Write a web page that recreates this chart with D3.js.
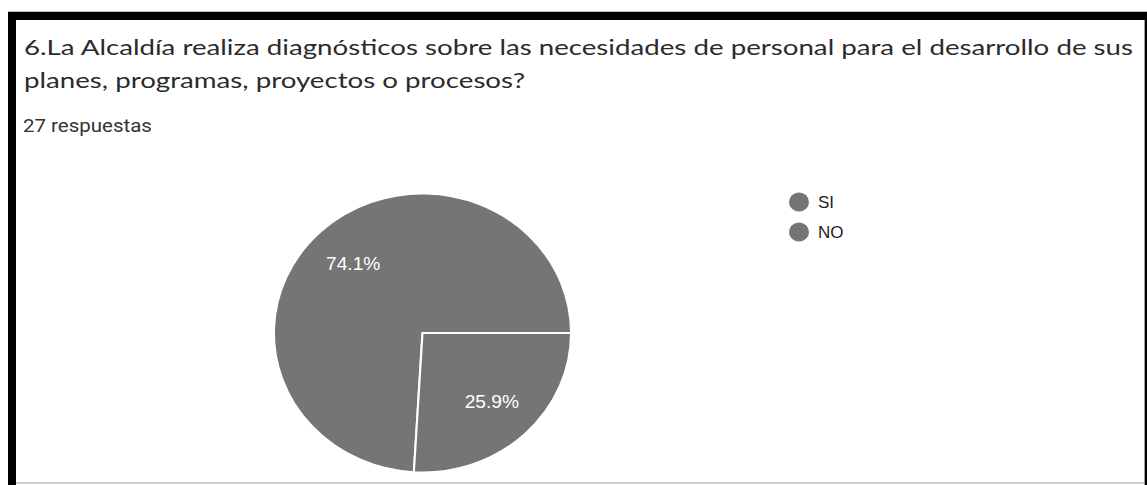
<!DOCTYPE html>
<html>
<head>
<meta charset="utf-8">
<script src="https://cdn.jsdelivr.net/npm/d3@7"></script>
<style>
  html, body { margin: 0; padding: 0; background: #fff; }
  svg { display: block; }
</style>
</head>
<body>
<svg id="chart" width="1147" height="485"></svg>
<script>
// Survey question, answer count and answer tallies
const titleLines = [
  "6.La Alcaldía realiza diagnósticos sobre las necesidades de personal para el desarrollo de sus",
  "planes, programas, proyectos o procesos?"
];
const responsesLabel = "27 respuestas";
const categories = ["SI", "NO"];
const counts = [20, 7];

const svg = d3.select("#chart");
const W = 1147, H = 485;

// Frame: heavy black top/left edges, thin right edge, light bottom rule
svg.append("rect").attr("x", 8).attr("y", 11).attr("width", W - 8).attr("height", 1).attr("fill", "#bdbdbd");
svg.append("rect").attr("x", 8).attr("y", 12).attr("width", W - 8).attr("height", 8).attr("fill", "#000");
svg.append("rect").attr("x", 8).attr("y", 12).attr("width", 8).attr("height", H - 12).attr("fill", "#000");
svg.append("rect").attr("x", 1144).attr("y", 20).attr("width", 1).attr("height", H - 20).attr("fill", "#9e9e9e");
svg.append("rect").attr("x", 1145).attr("y", 12).attr("width", 2).attr("height", H - 12).attr("fill", "#000");
svg.append("rect").attr("x", 16).attr("y", 482).attr("width", 1128).attr("height", 2).attr("fill", "#cfcfcf");

// Title, stretched to the measured line width
const titleG = svg.append("g");
const t1 = titleG.append("text")
  .attr("x", 0).attr("y", 55)
  .attr("font-family", "Lato, 'Open Sans', sans-serif")
  .attr("font-size", 22)
  .attr("fill", "#2b2b2b")
  .text(titleLines[0]);
titleG.append("text")
  .attr("x", 0).attr("y", 88)
  .attr("font-family", "Lato, 'Open Sans', sans-serif")
  .attr("font-size", 22)
  .attr("fill", "#2b2b2b")
  .text(titleLines[1]);
const tw = t1.node().getComputedTextLength();
titleG.attr("transform", `translate(24,0) scale(${1109 / tw},1)`);

const subG = svg.append("g");
const sub = subG.append("text")
  .attr("x", 0).attr("y", 132)
  .attr("font-family", "Roboto, sans-serif")
  .attr("font-size", 18)
  .attr("fill", "#333")
  .text(responsesLabel);
const sw = sub.node().getComputedTextLength();
subG.attr("transform", `translate(23,0) scale(${129 / sw},1)`);

// Fine dither pattern used for the second slice
const defs = svg.append("defs");
const pat = defs.append("pattern")
  .attr("id", "dither").attr("width", 2).attr("height", 2)
  .attr("patternUnits", "userSpaceOnUse");
pat.append("rect").attr("width", 2).attr("height", 2).attr("fill", "#7a7a7a");
pat.append("rect").attr("width", 1).attr("height", 1).attr("fill", "#6f6f6f");
pat.append("rect").attr("x", 1).attr("y", 1).attr("width", 1).attr("height", 1).attr("fill", "#6f6f6f");

const fills = d3.scaleOrdinal().domain(categories).range(["#757575", "url(#dither)"]);

// Pie
const total = d3.sum(counts);
const data = categories.map((c, i) => ({ cat: c, value: counts[i] }));
const R = 139.5, sx = 1.065;
const firstShare = counts[0] / total;
const start = Math.PI / 2 - firstShare * 2 * Math.PI;
const pie = d3.pie().value(d => d.value).sort(null)
  .startAngle(start).endAngle(start + 2 * Math.PI);
const arcs = pie(data);
const arc = d3.arc().innerRadius(0).outerRadius(R);
const labelArc = d3.arc().innerRadius(R * 0.68).outerRadius(R * 0.68);

const pieG = svg.append("g").attr("transform", `translate(422.5,333) scale(${sx},1)`);
pieG.selectAll("path.slice").data(arcs).join("path")
  .attr("class", "slice")
  .attr("d", arc)
  .attr("fill", d => fills(d.data.cat))
  .attr("stroke", "#fff")
  .attr("stroke-width", 2)
  .attr("stroke-linejoin", "round");

pieG.selectAll("text.pct").data(arcs).join("text")
  .attr("class", "pct")
  .attr("transform", d => `translate(${labelArc.centroid(d)})`)
  .attr("text-anchor", "middle")
  .attr("dy", "0.36em")
  .attr("font-family", "'Liberation Sans', Arial, sans-serif")
  .attr("font-size", 18)
  .attr("fill", "#fff")
  .text(d => (d.data.value / total * 100).toFixed(1) + "%");

// Legend
const legend = svg.append("g").attr("transform", "translate(799,202)");
const items = legend.selectAll("g").data(categories).join("g")
  .attr("transform", (d, i) => `translate(0,${i * 30})`);
items.append("ellipse").attr("rx", 10).attr("ry", 9.5).attr("fill", "#757575");
items.append("text")
  .attr("x", 19).attr("dy", "0.36em")
  .attr("font-family", "'Liberation Sans', Arial, sans-serif")
  .attr("font-size", 17)
  .attr("fill", "#222")
  .text(d => d);
</script>
</body>
</html>
